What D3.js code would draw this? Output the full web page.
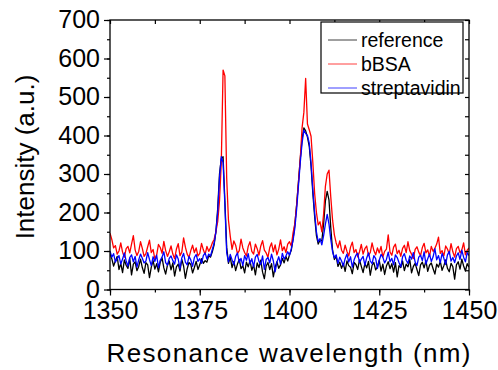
<!DOCTYPE html>
<html>
<head>
<meta charset="utf-8">
<script src="https://cdn.jsdelivr.net/npm/d3@7"></script>
<style>
  html, body { margin: 0; padding: 0; background: #fff; }
  svg { display: block; font-family: "Liberation Sans", Arial, sans-serif; }
</style>
</head>
<body>
<svg id="chart" width="498" height="370"></svg>
<script>
// Resonance spectra sampled every 0.5 nm from 1350 nm to 1450 nm
const wlStart = 1350, wlStep = 0.5;

const seriesNames = ["reference", "bBSA", "streptavidin"];
const seriesColors = ["#000000", "#ff0000", "#0000ff"];

const reference = [
  92,80,61,74,86,52,68,44,77,63,55,81,38,66,72,49,60,79,57,42,
  70,64,31,58,75,53,67,46,71,82,56,40,63,74,51,69,35,59,66,48,
  78,61,29,54,70,65,43,57,73,52,64,80,68,75,71,88,84,98,116,150,
  210,300,340,345,230,110,
  68,84,57,73,49,66,78,54,62,43,71,59,75,50,64,38,69,57,76,45,
  28,61,70,52,67,33,58,72,55,64,81,69,86,74,90,102,
  132,170,222,280,340,390,420,412,396,372,320,250,190,140,118,128,126,170,230,255,232,160,
  102,78,86,60,71,55,68,47,74,62,58,41,70,65,52,77,60,44,68,56,
  73,37,63,70,51,59,76,48,66,39,61,72,54,67,45,70,33,62,57,74,
  49,66,59,78,43,60,68,52,36,64,71,56,75,47,63,69,54,40,66,58,
  73,50,62,77,55,46,68,59,27,64,72,53,79,61,48,67,58
];

const bBSA = [
  146,130,108,114,92,100,121,97,84,106,112,95,118,140,103,88,99,124,107,86,
  93,111,128,96,104,79,90,117,109,94,125,101,86,98,113,92,80,105,119,88,
  97,134,110,92,83,101,115,96,108,87,94,120,103,91,112,99,108,121,130,150,
  176,230,330,570,555,290,
  180,138,104,126,115,93,101,131,108,96,87,112,124,99,
  92,118,106,89,113,127,102,95,84,109,121,98,116,90,105,129,101,111,96,118,124,113,
  148,172,220,280,340,420,460,548,430,415,398,330,250,200,168,176,150,196,268,300,310,240,
  180,142,121,108,126,102,94,115,99,87,110,123,96,104,85,98,117,92,106,113,
  88,96,121,101,90,108,95,112,84,99,105,142,97,89,110,118,93,102,86,107,
  115,96,124,101,92,80,104,111,97,88,109,120,95,103,86,112,99,107,118,136,
  94,101,87,113,105,92,119,98,84,106,112,95,103,121,90,102,108
];

const streptavidin = [
  100,84,93,71,80,88,66,79,95,74,61,83,90,72,86,58,77,92,81,69,
  74,96,78,62,85,73,89,57,76,84,98,70,63,81,87,75,66,90,79,54,
  82,94,71,64,86,77,60,83,91,73,80,68,88,95,79,92,87,104,120,150,
  200,290,345,330,220,96,
  72,91,77,64,86,95,70,81,62,88,76,93,67,80,59,84,91,73,65,87,
  52,78,83,69,92,74,46,71,85,66,94,79,87,98,89,106,
  128,160,210,270,330,380,414,405,400,380,330,260,200,150,124,132,116,140,170,195,170,130,
  98,82,90,68,84,74,61,80,92,71,85,58,77,89,94,70,79,86,63,82,
  95,74,67,88,80,55,76,91,84,69,78,97,72,81,64,90,83,70,59,85,
  93,76,68,87,79,96,71,62,84,89,75,98,66,80,92,73,85,106,77,88,
  69,94,81,65,90,99,74,83,70,87,95,78,102,84,72,96,88
];

const xTicks = [1350, 1375, 1400, 1425, 1450];
const yTicks = [0, 100, 200, 300, 400, 500, 600, 700];
const xTitle = "Resonance wavelength (nm)";
const yTitle = "Intensity (a.u.)";

const svg = d3.select("#chart");
const margin = { left: 110, right: 29, top: 20, bottom: 80.5 };
const W = 498, H = 370;
const x = d3.scaleLinear().domain([1350, 1450]).range([margin.left, W - margin.right]);
const y = d3.scaleLinear().domain([0, 700]).range([H - margin.bottom, margin.top]);

const wavelengths = reference.map((_, i) => wlStart + i * wlStep);
const allSeries = [reference, bBSA, streptavidin];

const plot = svg.append("g");
plot.append("clipPath").attr("id", "clip")
  .append("rect")
  .attr("x", x(1350)).attr("y", y(700))
  .attr("width", x(1450) - x(1350)).attr("height", y(0) - y(700));

const line = d3.line()
  .x((d, i) => x(wavelengths[i]))
  .y(d => y(d));

allSeries.forEach((s, k) => {
  plot.append("path")
    .datum(s)
    .attr("clip-path", "url(#clip)")
    .attr("fill", "none")
    .attr("stroke", seriesColors[k])
    .attr("stroke-width", 1.3)
    .attr("stroke-linejoin", "round")
    .attr("d", line);
});

// Axes: labelled bottom/left with outward ticks, mirrored top/right with inward ticks
const fontSize = 25;
const minorX = d3.range(1350, 1450.01, 12.5);
const minorY = d3.range(0, 700.01, 50);

const gx = svg.append("g").attr("transform", `translate(0,${y(0)})`)
  .call(d3.axisBottom(x).tickValues(minorX).tickSize(3).tickFormat(""));
const gx2 = svg.append("g").attr("transform", `translate(0,${y(0)})`)
  .call(d3.axisBottom(x).tickValues(xTicks).tickSize(6).tickPadding(6).tickFormat(d3.format("d")));
gx2.selectAll("text").attr("font-size", fontSize).attr("fill", "#000")
  .attr("font-family", "Liberation Sans, Arial, sans-serif");

const gy = svg.append("g").attr("transform", `translate(${x(1350)},0)`)
  .call(d3.axisLeft(y).tickValues(minorY).tickSize(3).tickFormat(""));
const gy2 = svg.append("g").attr("transform", `translate(${x(1350)},0)`)
  .call(d3.axisLeft(y).tickValues(yTicks).tickSize(6).tickPadding(4).tickFormat(d3.format("d")));
gy2.selectAll("text").attr("font-size", fontSize).attr("fill", "#000")
  .attr("font-family", "Liberation Sans, Arial, sans-serif").attr("dy", "0.3em");

const gt = svg.append("g").attr("transform", `translate(0,${y(700)})`)
  .call(d3.axisBottom(x).tickValues(minorX).tickSize(4).tickFormat(""));
const gr = svg.append("g").attr("transform", `translate(${x(1450)},0)`)
  .call(d3.axisLeft(y).tickValues(minorY).tickSize(4).tickFormat(""));

[gx, gx2, gy, gy2, gt, gr].forEach(g => {
  g.select(".domain").remove();
  g.selectAll("line").attr("stroke", "#000").attr("stroke-width", 1.2);
});

// Frame
svg.append("rect")
  .attr("x", x(1350)).attr("y", y(700))
  .attr("width", x(1450) - x(1350)).attr("height", y(0) - y(700))
  .attr("fill", "none").attr("stroke", "#000").attr("stroke-width", 1.3);

// Axis titles
svg.append("text")
  .attr("x", (x(1350) + x(1450)) / 2 - 1).attr("y", 362)
  .attr("text-anchor", "middle")
  .attr("font-size", 26)
  .attr("textLength", 364).attr("lengthAdjust", "spacing")
  .attr("fill", "#000")
  .text(xTitle);

svg.append("text")
  .attr("transform", "translate(34,157) rotate(-90)")
  .attr("text-anchor", "middle")
  .attr("font-size", 26)
  .attr("fill", "#000")
  .text(yTitle);

// Legend
const lg = svg.append("g");
lg.append("rect")
  .attr("x", 321).attr("y", 22).attr("width", 142).attr("height", 71)
  .attr("fill", "#fff").attr("stroke", "#000").attr("stroke-width", 1.2);
seriesNames.forEach((name, k) => {
  const cy = 40 + k * 24;
  lg.append("line")
    .attr("x1", 328).attr("x2", 357).attr("y1", cy).attr("y2", cy)
    .attr("stroke", seriesColors[k]).attr("stroke-width", 1).attr("stroke-opacity", 0.75);
  lg.append("text")
    .attr("x", 361).attr("y", cy + 7)
    .attr("font-size", 19.5)
    .attr("fill", "#000")
    .text(name);
});
</script>
</body>
</html>
